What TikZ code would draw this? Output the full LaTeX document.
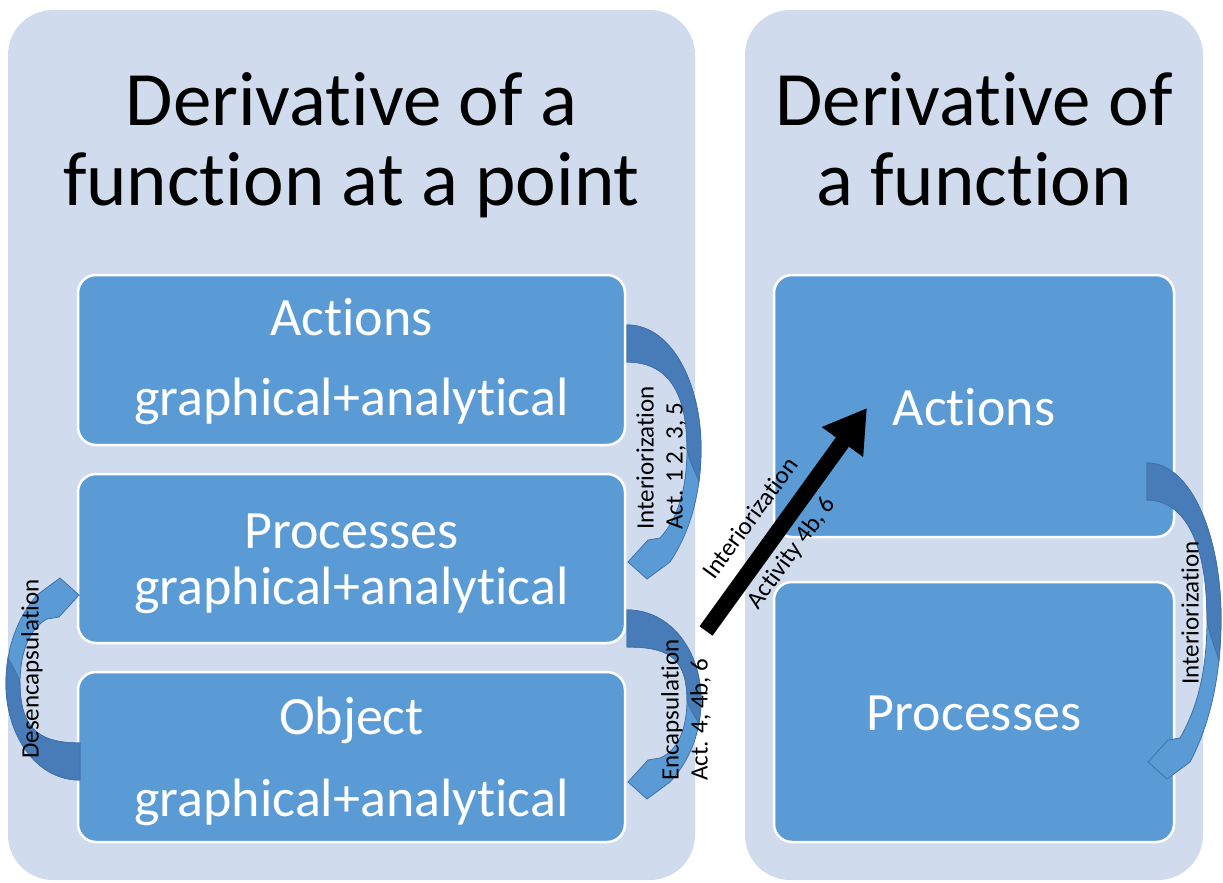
\documentclass[tikz,border=0pt]{standalone}
\usepackage{fontspec}
\setmainfont{Carlito}[RawFeature={-liga;-clig}]
\usetikzlibrary{arrows.meta}
\definecolor{panel}{RGB}{208,220,237}
\definecolor{boxfill}{RGB}{91,155,213}
\definecolor{arrdark}{RGB}{72,124,184}
\definecolor{arrlight}{RGB}{91,155,213}
\definecolor{arrline}{RGB}{65,113,168}
\newcommand\bendarrow[1]{%
  \filldraw[fill=arrlight, draw=arrline, line width=0.8pt]
    (0,0) .. controls (45,0) and (74,{0.25*#1}) .. (74,{0.52*#1})
    .. controls (74,{0.72*#1}) and (62,{0.88*#1}) .. (43,{#1})
    -- (20,{#1+17}) -- (1,{#1}) -- (21,{#1-22}) -- (33,{#1-24})
    .. controls (50,{0.82*#1}) and (60,{0.7*#1}) .. (60,{0.52*#1})
    .. controls (60,{0.25*#1}) and (35,37) .. (0,37) -- cycle;
  \filldraw[fill=arrdark, draw=arrline, line width=0.8pt]
    (0,0) .. controls (45,0) and (74,{0.25*#1}) .. (74,{0.52*#1})
    .. controls (74,{0.58*#1}) and (73,{0.62*#1}) .. (72,{0.66*#1})
    .. controls (66,{0.6*#1}) and (61,{0.56*#1}) .. (60,{0.52*#1})
    .. controls (60,{0.25*#1}) and (35,37) .. (0,37) -- cycle;
}
\begin{document}
\begin{tikzpicture}[x=1pt,y=-1pt,
  panelbox/.style={fill=panel, rounded corners=45pt},
  stepbox/.style={fill=boxfill, draw=white, line width=2.5pt, rounded corners=18pt, inner sep=0pt},
  titletext/.style={font=\fontsize{77}{80}\selectfont, anchor=base, inner sep=0pt},
  boxtext/.style={font=\fontsize{54}{60}\selectfont, text=white, anchor=base, inner sep=0pt},
  lbl/.style={font=\fontsize{25}{29}\selectfont, rotate=90, align=left, inner sep=0pt},
  slopelbl/.style={font=\fontsize{25}{29}\selectfont, rotate=53.6, inner sep=0pt},
]
\useasboundingbox (0,0) rectangle (1223,883);
\fill[white] (0,0) rectangle (1223,883);
% panels
\path[panelbox] (8,10) rectangle (695,880);
\path[panelbox] (745,10) rectangle (1203,880);
% titles
\node[titletext] (t1a) at (351.5,125) {Derivative of a};
\node[titletext] (t1b) at (351.5,205) {function at a point};
\node[titletext] (t2a) at (974,125) {Derivative of};
\node[titletext] (t2b) at (974,205) {a function};
% left boxes
\node[stepbox, minimum width=547pt, minimum height=170pt] (lact) at (351.5,360) {};
\node[stepbox, minimum width=547pt, minimum height=169pt] (lproc) at (351.5,558.5) {};
\node[stepbox, minimum width=547pt, minimum height=170pt] (lobj) at (351.5,757) {};
% right boxes
\node[stepbox, minimum width=400pt, minimum height=262pt] (ract) at (974,406) {};
\node[stepbox, minimum width=400pt, minimum height=260pt] (rproc) at (974,712) {};
% box texts
\node[boxtext] (lacta) at (351.5,335) {Actions};
\node[boxtext] (lactb) at (351.5,415) {graphical+analytical};
\node[boxtext] (lproca) at (351.5,548) {Processes};
\node[boxtext] (lprocb) at (351.5,604) {graphical+analytical};
\node[boxtext] (lobja) at (351.5,734) {Object};
\node[boxtext] (lobjb) at (351.5,816) {graphical+analytical};
\node[boxtext] (racta) at (974,425) {Actions};
\node[boxtext] (rproca) at (974,730) {Processes};
% curved arrows
\begin{scope}[shift={(627,325)}]\bendarrow{237}\end{scope}
\begin{scope}[shift={(627,610)}]\bendarrow{172}\end{scope}
\begin{scope}[shift={(1147,463)}]\bendarrow{299}\end{scope}
\begin{scope}[shift={(80,780)}, xscale=-1, yscale=-1]\bendarrow{185}\end{scope}
% curved arrow labels
\node[lbl] (l1) at (661,458) {Interiorization\\Act. 1 2, 3, 5};
\node[lbl] (l2) at (686,710) {Encapsulation\\Act. 4, 4b, 6};
\node[lbl] (l3) at (32,669) {Desencapsulation};
\node[lbl] (l4) at (1190,613) {Interiorization};
% black arrow
\coordinate (btail) at (706,631);
\coordinate (btip) at (867,408);
\draw[line width=16pt, -{Triangle[length=42pt,width=48pt]}] (btail) -- (btip);
\node[slopelbl] (l5) at (750,518) {Interiorization};
\node[slopelbl] (l6) at (792,553) {Activity 4b, 6};
\end{tikzpicture}
\end{document}
